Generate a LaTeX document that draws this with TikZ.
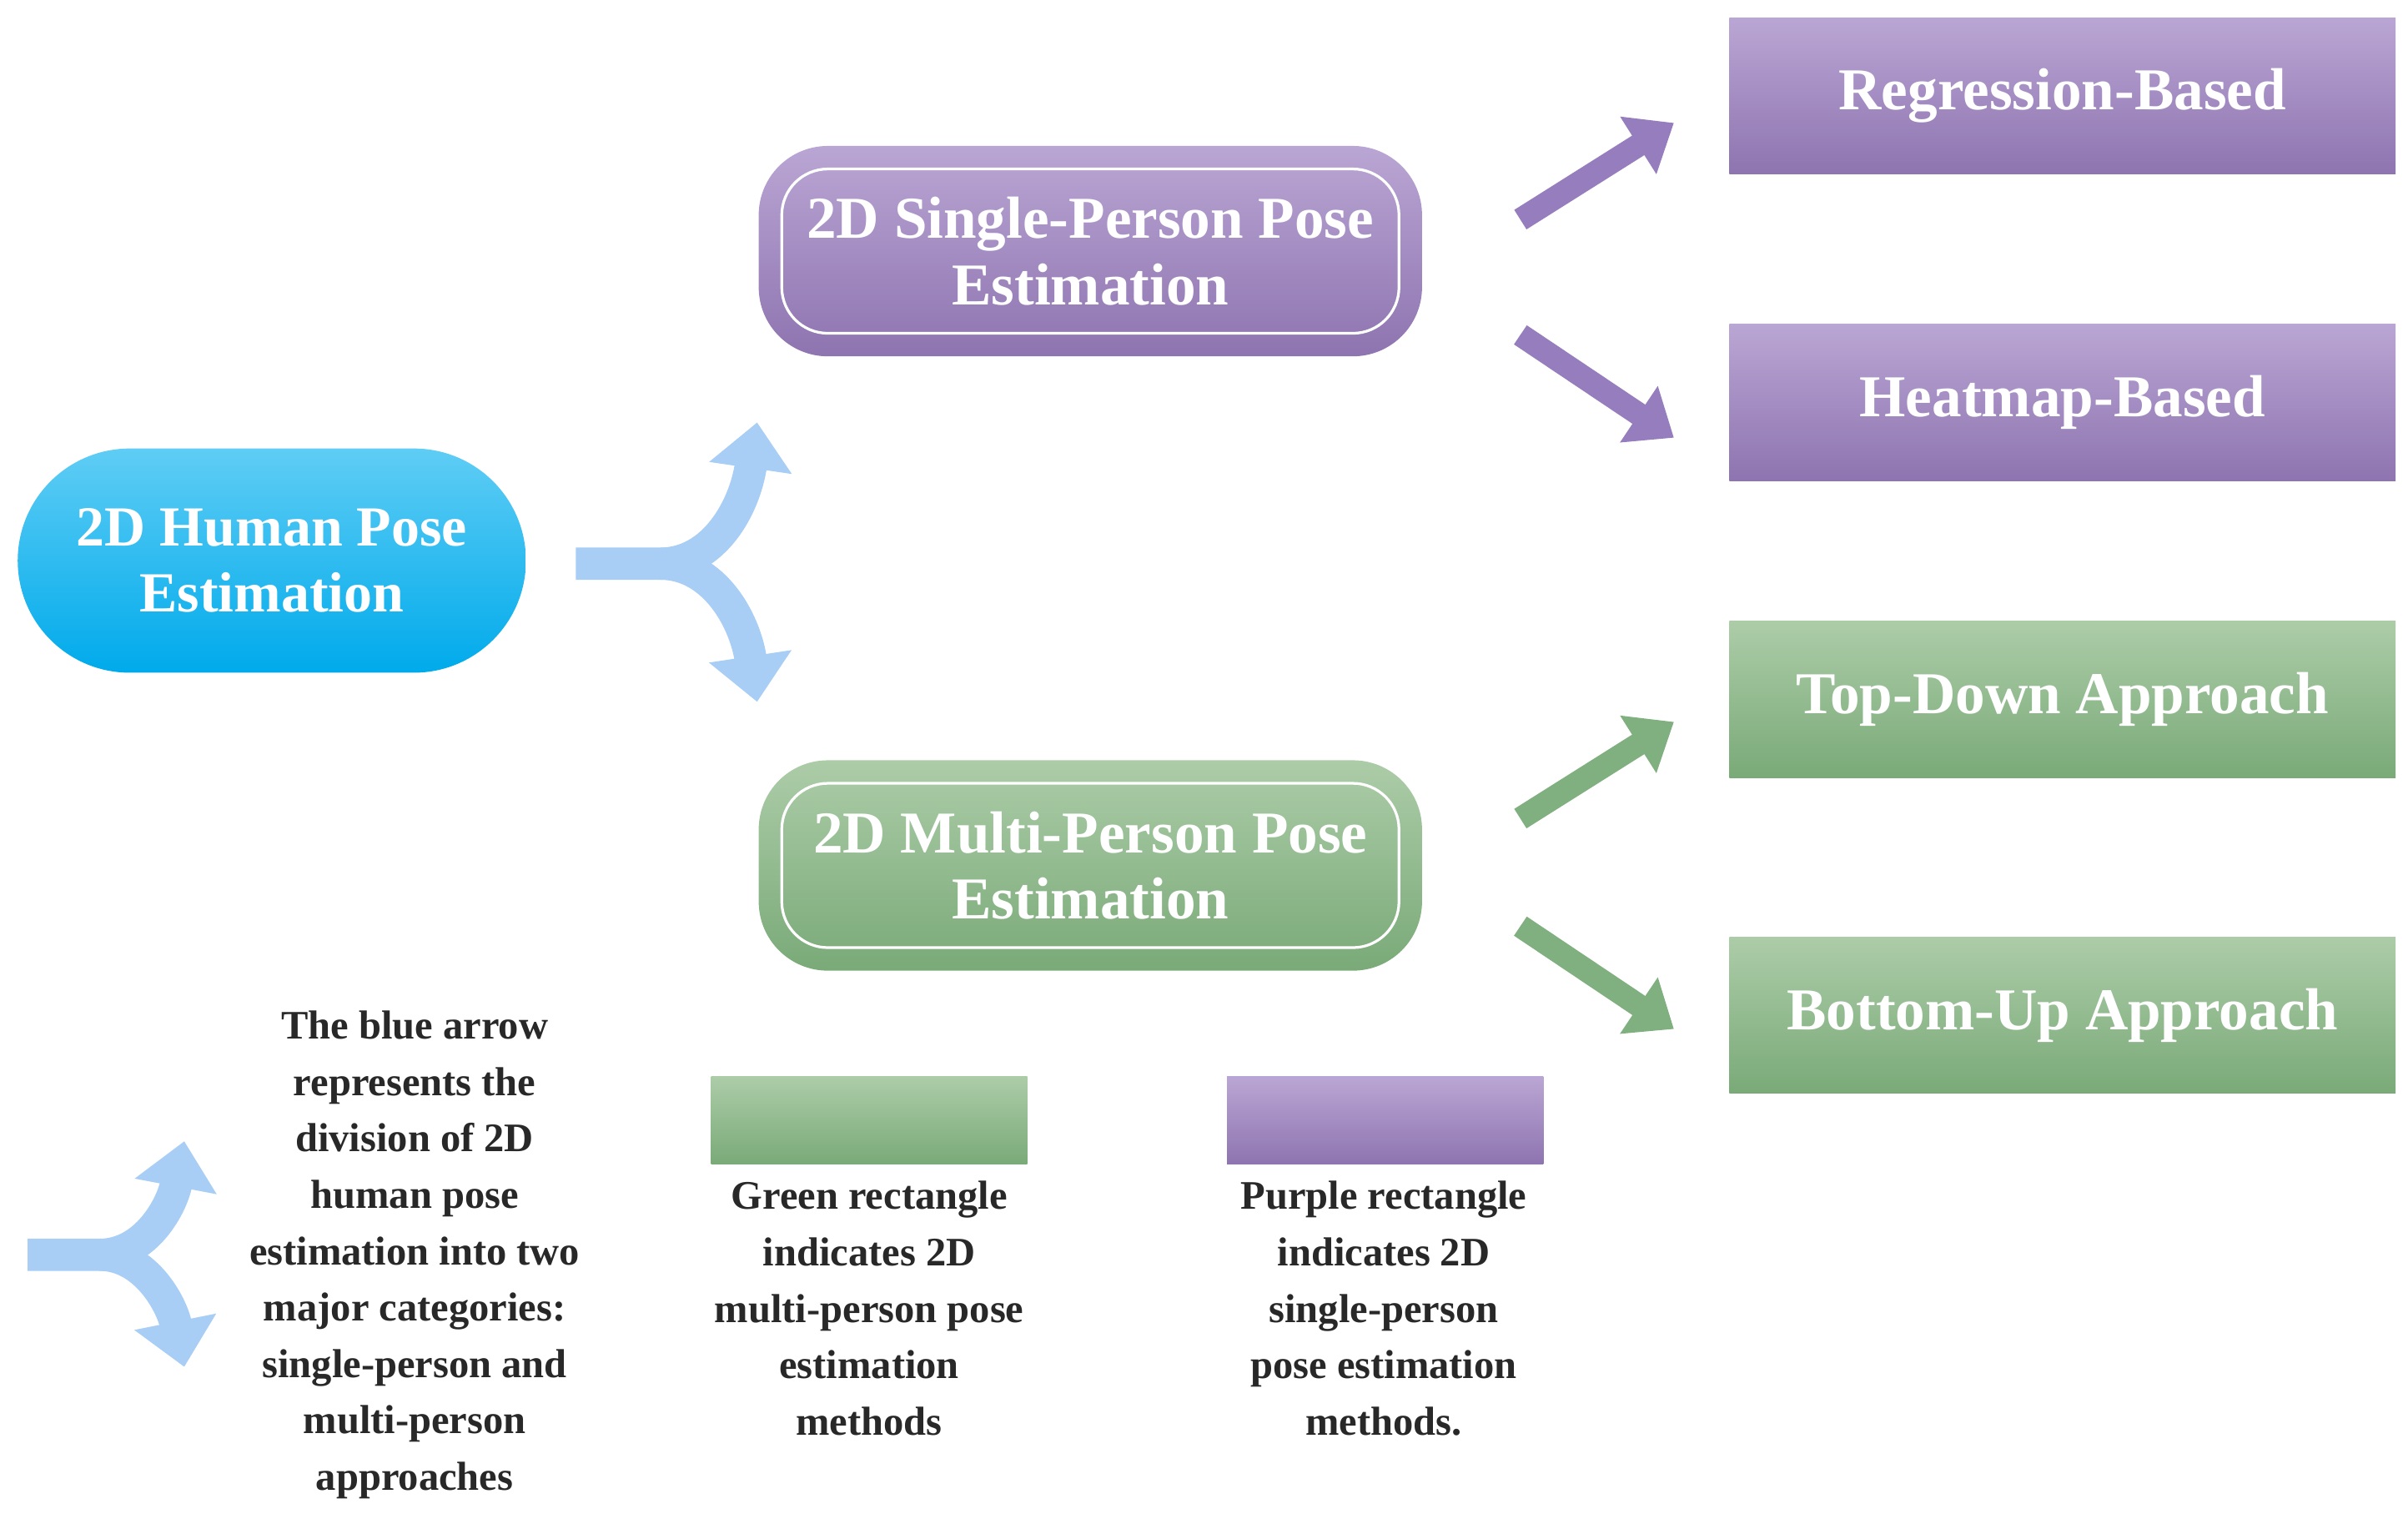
\documentclass[tikz,border=0pt]{standalone}
\usepackage{fontspec}
\setmainfont{Liberation Serif}
\usetikzlibrary{arrows.meta}
\definecolor{pT}{RGB}{186,166,212}
\definecolor{pB}{RGB}{142,116,176}
\definecolor{gT}{RGB}{172,204,168}
\definecolor{gB}{RGB}{122,170,120}
\definecolor{bT}{RGB}{95,205,245}
\definecolor{bB}{RGB}{0,170,235}
\definecolor{lb}{RGB}{168,206,246}
\definecolor{pA}{RGB}{150,125,190}
\definecolor{gA}{RGB}{128,176,128}
\definecolor{cap}{RGB}{40,40,40}
\begin{document}
\begin{tikzpicture}[x=0.02cm,y=-0.02cm,
  boxtxt/.style={text=white,font=\bfseries\fontsize{22}{24.5}\selectfont,align=center},
  pur/.style={top color=pT,bottom color=pB,draw=none},
  grn/.style={top color=gT,bottom color=gB,draw=none},
  big/.style={minimum width=8.64cm,minimum height=2.74cm,rounded corners=0.9cm},
  inner/.style={minimum width=8.04cm,minimum height=2.14cm,rounded corners=0.6cm,draw=white,line width=1pt},
  right/.style={minimum width=8.68cm,minimum height=2.04cm,inner sep=0pt},
  leg/.style={minimum width=4.12cm,minimum height=1.14cm},
  captxt/.style={text=cap,font=\bfseries\fontsize{15}{20.9}\selectfont,align=center},
  fat/.style={line width=0.3cm,-{Triangle[length=0.55cm,width=0.85cm]}},
  split/.style={line width=0.42cm,color=lb,-{Triangle[length=0.6cm,width=1.05cm]}}]
\useasboundingbox (0,0) rectangle (1568,995);
% main nodes
\node[top color=bT,bottom color=bB,minimum width=6.62cm,minimum height=2.92cm,rounded corners=1.46cm,boxtxt,font=\bfseries\fontsize{21}{24.5}\selectfont] (hpe) at (177,365) {2D Human Pose\\Estimation};
\node[pur,big] (sp) at (710,163.5) {};
\node[inner,boxtxt] (spi) at (710,163.5) {2D Single-Person Pose\\Estimation};
\node[grn,big] (mp) at (710,563.5) {};
\node[inner,boxtxt] (mpi) at (710,563.5) {2D Multi-Person Pose\\Estimation};
\node[pur,right,boxtxt] (reg) at (1343,62.5) {Regression-Based};
\node[pur,right,boxtxt] (heat) at (1343,262) {Heatmap-Based};
\node[grn,right,boxtxt] (td) at (1343,455.5) {Top-Down Approach};
\node[grn,right,boxtxt] (bu) at (1343,661) {Bottom-Up Approach};
% fat arrows
\coordinate (a1s) at (990,143); \coordinate (a1e) at (1090,80);
\coordinate (a2s) at (990,218); \coordinate (a2e) at (1090,285);
\coordinate (a3s) at (990,533); \coordinate (a3e) at (1090,470);
\coordinate (a4s) at (990,603); \coordinate (a4e) at (1090,670);
\draw[fat,pA] (a1s) -- (a1e);
\draw[fat,pA] (a2s) -- (a2e);
\draw[fat,gA] (a3s) -- (a3e);
\draw[fat,gA] (a4s) -- (a4e);
% blue split arrow
\coordinate (s0) at (375,367); \coordinate (s1) at (430,367);
\coordinate (su) at (493,275); \coordinate (sd) at (493,457);
\draw[split] (s0) -- (s1) .. controls (465,367) and (485,330) .. (su);
\draw[split] (s1) .. controls (465,367) and (485,404) .. (sd);
% small legend split arrow
\coordinate (t0) at (18,817); \coordinate (t1) at (65,817);
\coordinate (tu) at (120,743); \coordinate (td2) at (120,890);
\draw[split] (t0) -- (t1) .. controls (95,817) and (112,785) .. (tu);
\draw[split] (t1) .. controls (95,817) and (112,850) .. (td2);
% legend
\node[grn,leg] (lg) at (566,729.5) {};
\node[pur,leg] (lp) at (902,729.5) {};
\node[captxt,anchor=north] (c1) at (270,652) {The blue arrow\\represents the\\division of 2D\\human pose\\estimation into two\\major categories:\\single-person and\\multi-person\\approaches};
\node[captxt,anchor=north] (c2) at (566,763) {Green rectangle\\indicates 2D\\multi-person pose\\estimation\\methods};
\node[captxt,anchor=north] (c3) at (901,763) {Purple rectangle\\indicates 2D\\single-person\\pose estimation\\methods.};
\end{tikzpicture}
\end{document}
